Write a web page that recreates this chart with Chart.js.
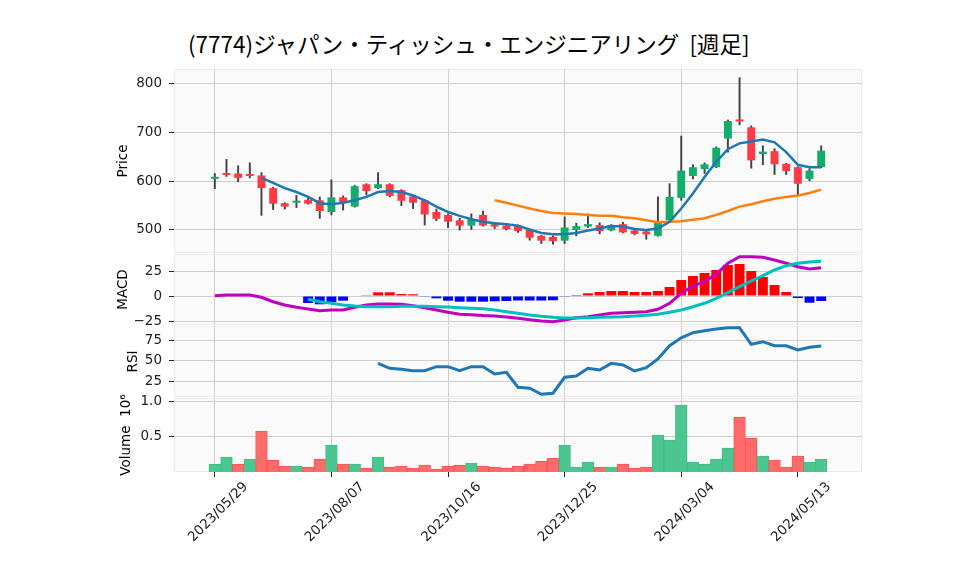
<!DOCTYPE html>
<html>
<head>
<meta charset="utf-8">
<script src="https://cdn.jsdelivr.net/npm/chart.js@4.4.1/dist/chart.umd.min.js"></script>
<style>
  body { margin: 0; background: #fff; }
  #wrap { position: relative; width: 958px; height: 575px; overflow: hidden; }
  #title { position: absolute; left: 188px; top: 32px; font: 22.5px/22px "Noto Sans CJK JP", sans-serif; color: #000; white-space: pre; }
  canvas { position: absolute; left: 0; }
</style>
</head>
<body>
<div id="wrap">
  <div id="title">(7774)ジャパン・ティッシュ・エンジニアリング  [週足]</div>
  <canvas id="price" width="958" height="204" style="top:59px"></canvas>
  <canvas id="macd" width="958" height="91" style="top:244px"></canvas>
  <canvas id="rsi" width="958" height="91" style="top:316px"></canvas>
  <canvas id="vol" width="958" height="187" style="top:388px"></canvas>
</div>
<script>
// weekly candles, one per week from 2023/05/29 (index 0) to 2024/05/27 (index 52)
const tickPos = [0, 10, 20, 30, 40, 50];
const tickLabels = ["2023/05/29", "2023/08/07", "2023/10/16", "2023/12/25", "2024/03/04", "2024/05/13"];

const opens = [605, 615, 616, 614, 612, 586, 555, 556, 562, 561, 537, 567, 548, 594, 586, 594, 582, 569, 561, 537,
  531, 520, 509, 531, 512, 509, 509, 500, 488, 486, 478, 500, 507, 510, 499, 512, 499, 497, 488, 520,
  566, 611, 625, 629, 688, 725, 711, 656, 662, 636, 629, 605, 629];
const closes = [608, 613, 607, 611, 586, 554, 548, 558, 554, 539, 567, 556, 590, 580, 594, 570, 560, 556, 532, 523,
  517, 509, 522, 509, 507, 502, 498, 484, 478, 477, 505, 508, 512, 498, 510, 495, 492, 491, 515, 568,
  622, 629, 635, 669, 724, 723, 643, 661, 635, 621, 595, 622, 663];
const highs = [616, 645, 632, 638, 618, 588, 556, 571, 569, 568, 603, 570, 592, 595, 618, 595, 583, 570, 562, 543,
  533, 524, 533, 539, 515, 510, 510, 501, 489, 488, 527, 514, 533, 515, 511, 516, 500, 498, 568, 595,
  693, 634, 638, 671, 726, 813, 714, 673, 667, 637, 630, 626, 673];
const lows = [585, 610, 599, 607, 530, 542, 543, 546, 553, 524, 531, 541, 547, 572, 585, 568, 550, 544, 510, 519,
  505, 500, 501, 508, 503, 500, 495, 479, 472, 471, 472, 488, 505, 492, 498, 494, 490, 481, 487, 519,
  561, 605, 616, 628, 660, 716, 627, 634, 614, 614, 571, 601, 628];

const ma5 = [null, null, null, null, 607, 597, 586, 578, 568, 555, 553, 556, 561, 568, 578, 580, 578, 571, 561, 548,
  537, 529, 522, 517, 514, 512, 509, 501, 494, 491, 491, 494, 499, 503, 508, 507, 502, 500, 503, 517,
  544, 575, 609, 640, 666, 678, 682, 686, 680, 660, 634, 629, 629];
const ma25 = [null, null, null, null, null, null, null, null, null, null, null, null, null, null, null, null, null, null, null, null,
  null, null, null, null, 561, 556, 550, 544, 539, 535, 534, 533, 531, 529, 529, 526, 524, 520, 516, 517,
  518, 521, 524, 531, 539, 548, 553, 559, 564, 568, 571, 576, 583];

const macd = [0.3, 1, 1, 1, -1.3, -5.7, -9, -11.3, -13, -14.7, -14, -14, -11.3, -9, -8, -8, -8.3, -9.7, -11.7, -14,
  -16.3, -18.3, -18.7, -19.5, -20, -21, -22.3, -23.7, -25, -25.7, -24, -21.7, -20.7, -19, -17.3, -16.7, -16.3, -15.7, -13.3, -7.3,
  2.7, 10, 14.3, 22, 32.7, 39.3, 39.3, 38.7, 36, 32.7, 29.3, 27, 28.3];
const signal = [null, null, null, null, null, null, null, null, -3.3, -5.7, -7.3, -9, -10, -10.7, -10.7, -10.7, -10.3, -10.3, -10.3, -10.7,
  -11, -11.7, -12.3, -12.8, -14, -15.7, -17.3, -19, -20.3, -21.3, -22, -22, -21.7, -21.3, -21, -20.7, -20, -19.3, -18.3, -16.3,
  -14, -10.7, -7.3, -2.3, 3.3, 9.3, 15, 20.3, 26, 30.3, 32.7, 34, 34.7];
const hist = [null, null, null, null, null, null, null, null, -7, -8.3, -6, -4.7, -0.5, 0.8, 3.7, 3.7, 2, 1.7, -0.7, -2.3,
  -4.7, -5.7, -5.7, -5.7, -5.3, -5, -4.5, -4.5, -4.5, -4.3, -0.7, 1, 2.7, 4, 5, 5, 4, 4, 5, 9,
  16, 20, 23, 26, 31, 32, 25, 19, 11, 4, -2, -6.7, -5];

const rsi = [null, null, null, null, null, null, null, null, null, null, null, null, null, null, 47.2, 41.3, 40.1, 38.5, 38.5, 43.2,
  43.2, 38.5, 43.2, 43.2, 34.5, 36.5, 18.7, 17.5, 10.4, 11.6, 30.6, 32.1, 41.3, 39.3, 47.2, 45.2, 38.1, 42, 52.4, 68.2,
  77.7, 83.7, 86.1, 88.1, 89.6, 89.6, 69.9, 73, 68.2, 68.2, 63.1, 66.3, 67.9];

const volume = [114000, 214000, 114000, 186000, 586000, 167000, 86000, 86000, 71000, 186000,
  386000, 114000, 114000, 57000, 214000, 71000, 86000, 57000, 100000, 43000,
  86000, 100000, 129000, 86000, 71000, 57000, 86000, 114000, 152000, 200000,
  386000, 71000, 143000, 71000, 71000, 114000, 57000, 71000, 529000, 457000,
  957000, 143000, 114000, 186000, 343000, 786000, 486000, 229000, 171000, 71000,
  229000, 143000, 186000];

const priceTicks = [500, 600, 700, 800];
const macdTicks = [-25, 0, 25];
const rsiTicks = [25, 50, 75];
const volTicks = [500000, 1000000];

const FONT = '"DejaVu Sans", sans-serif';
const FSIZE = 13.5;
const textColor = '#222';
const gridColor = '#cfcfcf';
const upColor = '#12ad6a';
const downColor = '#ff3a44';
const xMin = -3.5, xMax = 55.5;

const idx = opens.map((_, i) => i);
const isUp = i => closes[i] >= opens[i];
// volume bars follow the close against the previous week's close
const volUp = i => i === 0 ? isUp(0) : closes[i] >= closes[i - 1];
const pts = arr => arr.map((v, i) => ({ x: i, y: v })).filter(p => p.y !== null);
const minus = s => String(s).replace('-', '\u2212');

// grey panel background behind each plot area
const panelBg = {
  id: 'panelBg',
  beforeDraw(chart) {
    const { ctx, chartArea: a } = chart;
    ctx.save();
    ctx.fillStyle = '#fafafa';
    ctx.fillRect(a.left, a.top, a.width, a.height);
    ctx.strokeStyle = '#ebebeb';
    ctx.lineWidth = 1;
    ctx.strokeRect(a.left + 0.5, a.top + 0.5, a.width - 1, a.height - 1);
    ctx.restore();
  }
};

function panelOptions(cfg) {
  return {
    responsive: false,
    animation: false,
    events: [],
    layout: { padding: { left: cfg.padLeft, right: 96, top: 10, bottom: cfg.padBottom } },
    plugins: { legend: { display: false }, tooltip: { enabled: false } },
    scales: {
      x: {
        type: 'linear',
        min: xMin,
        max: xMax,
        offset: false,
        afterBuildTicks: s => { s.ticks = tickPos.map(v => ({ value: v })); },
        afterFit: s => { s.height = cfg.xHeight; s.paddingLeft = 0; s.paddingRight = 0; },
        ticks: {
          display: cfg.showX,
          autoSkip: false,
          minRotation: 45,
          maxRotation: 45,
          labelOffset: 31,
          padding: 2,
          color: textColor,
          font: { family: FONT, size: FSIZE },
          callback: (v, i) => tickLabels[i]
        },
        grid: { offset: false, color: gridColor, drawTicks: cfg.showX, tickLength: 5, tickColor: textColor },
        border: { display: false }
      },
      y: {
        min: cfg.yMin,
        max: cfg.yMax,
        afterBuildTicks: s => { s.ticks = cfg.yTicks.map(v => ({ value: v })); },
        afterFit: s => { s.width = 174 - cfg.padLeft; s.paddingTop = 0; s.paddingBottom = 0; },
        ticks: {
          color: textColor,
          padding: 7,
          font: { family: FONT, size: FSIZE },
          callback: cfg.fmt || (v => minus(v))
        },
        grid: { color: gridColor, tickLength: 5, tickColor: textColor },
        border: { display: false },
        title: { display: true, text: cfg.title, color: '#000', padding: 0, font: { family: FONT, size: FSIZE } }
      }
    }
  };
}

new Chart(document.getElementById('price'), {
  data: {
    datasets: [
      { type: 'line', data: pts(ma5), borderColor: '#1f77b4', borderWidth: 2.5, pointRadius: 0, tension: 0, order: 0 },
      { type: 'line', data: pts(ma25), borderColor: '#ff7f0e', borderWidth: 2.5, pointRadius: 0, tension: 0, order: 1 },
      {
        type: 'bar', order: 2, grouped: false,
        data: idx.map(i => ({ x: i, y: [opens[i], closes[i]] })),
        backgroundColor: idx.map(i => isUp(i) ? upColor : downColor),
        barPercentage: 0.68, categoryPercentage: 1, minBarLength: 2
      },
      {
        type: 'bar', order: 3, grouped: false,
        data: idx.map(i => ({ x: i, y: [lows[i], highs[i]] })),
        backgroundColor: '#444444', barThickness: 1.3
      }
    ]
  },
  options: panelOptions({ padLeft: 115, padBottom: 10, xHeight: 0, showX: false, yMin: 452.7, yMax: 830.8, yTicks: priceTicks, title: 'Price' }),
  plugins: [panelBg]
});

new Chart(document.getElementById('macd'), {
  data: {
    datasets: [
      { type: 'line', data: pts(signal), borderColor: '#00bfbf', borderWidth: 3, pointRadius: 0, tension: 0, order: 0 },
      { type: 'line', data: pts(macd), borderColor: '#bf00bf', borderWidth: 3, pointRadius: 0, tension: 0, order: 1 },
      {
        type: 'bar', order: 2,
        data: pts(hist),
        backgroundColor: ctx => (ctx.raw && ctx.raw.y < 0) ? '#0000ff' : '#ff0000',
        barPercentage: 0.85, categoryPercentage: 1
      }
    ]
  },
  options: panelOptions({ padLeft: 115, padBottom: 10, xHeight: 0, showX: false, yMin: -29, yMax: 42, yTicks: macdTicks, title: 'MACD' }),
  plugins: [panelBg]
});

new Chart(document.getElementById('rsi'), {
  data: {
    datasets: [
      { type: 'line', data: pts(rsi), borderColor: '#1f77b4', borderWidth: 3, pointRadius: 0, tension: 0 }
    ]
  },
  options: panelOptions({ padLeft: 125, padBottom: 10, xHeight: 0, showX: false, yMin: 7.1, yMax: 91.7, yTicks: rsiTicks, title: 'RSI' }),
  plugins: [panelBg]
});

new Chart(document.getElementById('vol'), {
  data: {
    datasets: [
      {
        type: 'bar',
        data: pts(volume),
        backgroundColor: idx.map(i => volUp(i) ? '#4bc690' : '#ff6b6b'),
        borderColor: idx.map(i => volUp(i) ? '#3fbf86' : '#ff5252'),
        borderWidth: 1,
        barPercentage: 1, categoryPercentage: 1
      }
    ]
  },
  options: panelOptions({
    padLeft: 118, padBottom: 0, xHeight: 103, showX: true, yMin: 0, yMax: 1057000, yTicks: volTicks,
    title: 'Volume  10\u2076', fmt: v => (v / 1e6).toFixed(1)
  }),
  plugins: [panelBg]
});
</script>
</body>
</html>
